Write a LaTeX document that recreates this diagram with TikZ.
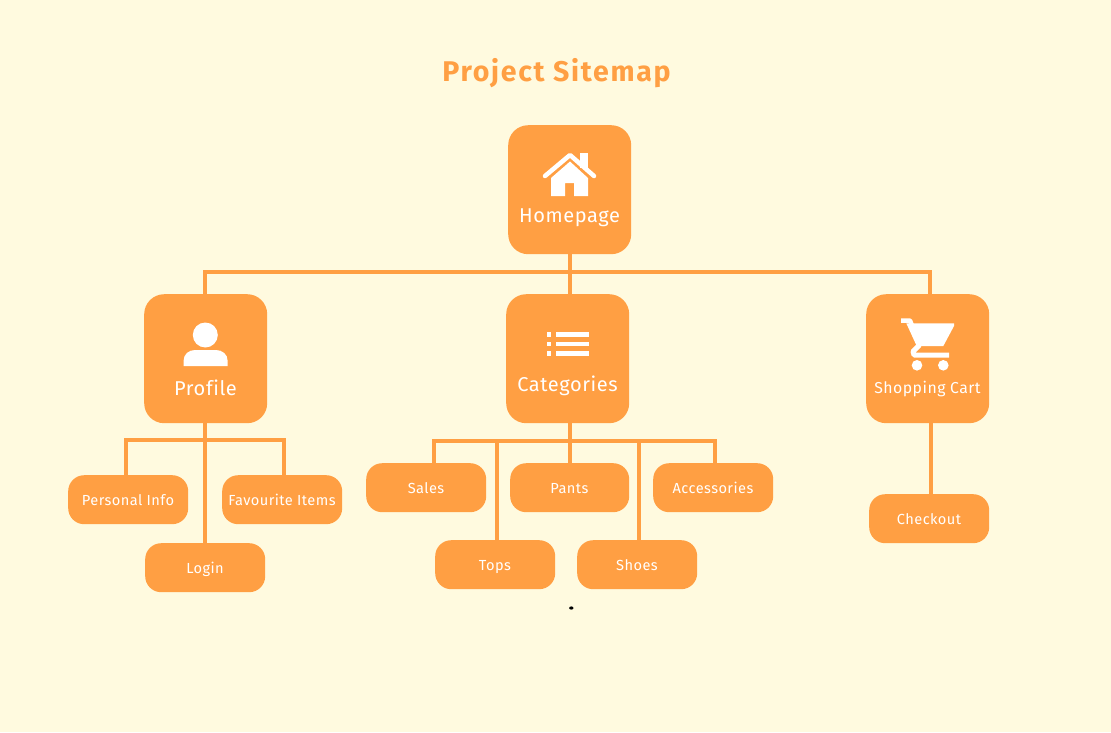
\documentclass[tikz,border=0pt]{standalone}
\usepackage{fontspec}
\setmainfont{Fira Sans}[LetterSpace=3,Ligatures=NoCommon]
\newfontfamily\titlefont{Fira Sans}[LetterSpace=6,Ligatures=NoCommon,BoldFont={Fira Sans Bold}]
\definecolor{bgc}{HTML}{FFFADF}
\definecolor{org}{HTML}{FF9F43}
\begin{document}
\begin{tikzpicture}[x=1pt,y=-1pt,
  bigbox/.style={fill=org,rounded corners=20pt,minimum width=123pt,minimum height=129pt,inner sep=0pt,anchor=north west},
  smallbox/.style={fill=org,rounded corners=16pt,minimum width=120pt,minimum height=49pt,inner sep=0pt,anchor=north west},
  biglabel/.style={text=white,inner sep=0pt,anchor=base,font=\fontsize{20}{20}\selectfont},
  smalllabel/.style={text=white,inner sep=0pt,anchor=base,font=\fontsize{14.6}{15}\selectfont},
  conn/.style={draw=org,line width=4pt},
  icon/.style={fill=white,draw=none}]
\fill[bgc] (0,0) rectangle (1111,732);
\useasboundingbox (0,0) rectangle (1111,732);
\node[text=org,inner sep=0pt,anchor=base,font=\titlefont\bfseries\fontsize{28.5}{29}\selectfont] (title) at (556.5,81) {Project Sitemap};

% bus coordinates
\coordinate (tL) at (205,272); \coordinate (tM) at (570,272); \coordinate (tR) at (930,272);
\coordinate (pL) at (126,440); \coordinate (pM) at (205,440); \coordinate (pR) at (284,440);
\coordinate (cA) at (434,441); \coordinate (cB) at (497,441); \coordinate (cM) at (570,441); \coordinate (cC) at (639,441); \coordinate (cD) at (715,441);
\coordinate (kM) at (931,423);

\node[bigbox] (home) at (508,125) {};
\node[bigbox] (profile) at (144,294) {};
\node[bigbox] (cats) at (506,294) {};
\node[bigbox] (cart) at (866,294) {};
\node[smallbox] (info) at (68,475) {};
\node[smallbox] (fav) at (222,475) {};
\node[smallbox] (login) at (145,543) {};
\node[smallbox] (sales) at (366,463) {};
\node[smallbox,minimum width=119pt] (pants) at (510,463) {};
\node[smallbox] (acc) at (653,463) {};
\node[smallbox] (tops) at (435,540) {};
\node[smallbox] (shoes) at (577,540) {};
\node[smallbox] (check) at (869,494) {};

% connectors
\draw[conn] (tM |- home.south) -- (tM |- cats.north);
\draw[conn] (tL |- profile.north) -- (tL) -- (tR) -- (tR |- cart.north);
\draw[conn] (pM |- profile.south) -- (pM |- login.north);
\draw[conn] (pL |- info.north) -- (pL) -- (pR) -- (pR |- fav.north);
\draw[conn] (cM |- cats.south) -- (cM |- pants.north);
\draw[conn] (cA |- sales.north) -- (cA) -- (cD) -- (cD |- acc.north);
\draw[conn] (cB) -- (cB |- tops.north);
\draw[conn] (cC) -- (cC |- shoes.north);
\draw[conn] (kM) -- (kM |- check.north);

% labels
\node[biglabel] (homet) at (569.5,222.5) {Homepage};
\node[biglabel] (proft) at (205.5,395.5) {Profile};
\node[biglabel] (catt) at (567.5,391.5) {Categories};
\node[biglabel,font=\fontsize{15.8}{16}\selectfont] (cartt) at (927.5,393) {Shopping Cart};
\node[smalllabel] (infot) at (128,505) {Personal Info};
\node[smalllabel] (favt) at (282,505) {Favourite Items};
\node[smalllabel] (logt) at (205,573) {Login};
\node[smalllabel] (salt) at (426,493) {Sales};
\node[smalllabel] (pant) at (569.5,493) {Pants};
\node[smalllabel] (acct) at (713,493) {Accessories};
\node[smalllabel] (topt) at (495,570) {Tops};
\node[smalllabel] (shot) at (637,570) {Shoes};
\node[smalllabel] (chet) at (929,524) {Checkout};

% house icon
\draw[white,line width=4.5pt,line cap=round,line join=round] (545,176) -- (570,155) -- (594,176);
\fill[icon] (580,153) rectangle (588,168);
\fill[icon] (551,178) -- (570,161.5) -- (588,178) -- (588,196) -- (574,196) -- (574,183) -- (565,183) -- (565,196) -- (551,196) -- cycle;
% person icon
\fill[icon] (205.3,335) circle[radius=12.5];
\fill[icon] (183.5,366) -- (183.5,361) .. controls (183.5,354) and (189,350) .. (195,350) -- (216,350) .. controls (222,350) and (227.7,354) .. (227.7,361) -- (227.7,366) -- cycle;
% list icon
\foreach \y in {332.3,341.7,351}{
  \fill[icon] (546.7,\y) rectangle ++(4.6,4.7);
  \fill[icon] (556,\y) rectangle ++(32.7,4.7);
}
% cart icon
\fill[icon] (906.3,323.3) -- (954,323.3) -- (954,326) -- (943.3,346) -- (916.7,346) -- cycle;
\draw[white,line width=4.5pt,line join=round] (901,320.5) -- (910,320.5) -- (919,343);
\draw[white,line width=5pt,line join=round] (949,355) -- (914,355) -- (913,351.5) -- (919.5,345);
\fill[icon] (917,365.3) circle[radius=5.3];
\fill[icon] (943.3,365.3) circle[radius=5.3];

% stray dot
\fill[black] (571.3,608) ellipse[x radius=2.2,y radius=1.6];
\end{tikzpicture}
\end{document}
